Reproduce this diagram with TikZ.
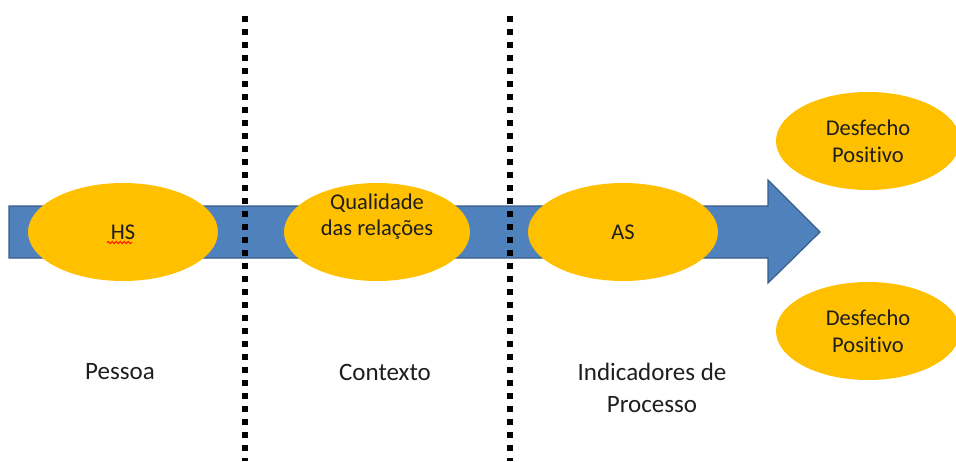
\documentclass[tikz,border=0pt]{standalone}
\usepackage{fontspec}
\setmainfont{Carlito}[Ligatures={NoCommon}]
\usetikzlibrary{shapes.geometric,decorations.pathmorphing}
\definecolor{ArrowBlue}{RGB}{79,129,189}
\definecolor{ArrowEdge}{RGB}{56,93,138}
\definecolor{BlobGold}{RGB}{255,192,0}
\definecolor{TextDark}{RGB}{30,30,30}

\tikzset{
  blob/.style={ellipse, fill=BlobGold, inner sep=0pt, minimum width=190pt, minimum height=98pt,
    align=center, text=TextDark, font=\fontsize{22.5}{27}\selectfont},
  caption/.style={align=center, text=TextDark, font=\fontsize{25}{32}\selectfont},
  dotline/.style={line width=6pt, dash pattern=on 6pt off 7pt, black}
}

\begin{document}
\begin{tikzpicture}[x=1pt, y=-1pt]
\pgfmathsetmacro{\at}{206} % arrow body top
\pgfmathsetmacro{\ab}{258} % arrow body bottom
\pgfmathsetmacro{\hx}{768} % arrow head base

\useasboundingbox (0,0) rectangle (956,461);
\clip (0,0) rectangle (956,461);

\filldraw[fill=ArrowBlue, draw=ArrowEdge, line width=1.2pt, line join=miter]
  (9,\at) -- (\hx,\at) -- (\hx,180) -- (820,232) -- (\hx,283) -- (\hx,\ab) -- (9,\ab) -- cycle; % big arrow

\node[blob] (hs) at (123,232) {HS};
\node[blob, minimum width=186pt] (qr) at (377,232) {};
\node[caption, font=\fontsize{22.5}{26}\selectfont] (qrtext) at (377,217) {Qualidade\\das relações};
\node[blob] (as) at (623,232) {AS};
\node[blob, minimum width=184pt] (dp1) at (868,141) {Desfecho\\Positivo};
\node[blob, minimum width=184pt] (dp2) at (868,331) {Desfecho\\Positivo};

\draw[red, line width=0.9pt, decorate, decoration={snake, amplitude=1.1pt, segment length=4pt}]
  (107,242.5) -- (132,242.5); % spell mark

\draw[dotline] (245,16) -- (245,461); % left divider
\draw[dotline] (510,16) -- (510,461); % right divider

\node[caption] (pessoa) at (120,372) {Pessoa};
\node[caption] (contexto) at (385,372) {Contexto};
\node[caption] (indic) at (652,388) {Indicadores de\\Processo};

\end{tikzpicture}
\end{document}
